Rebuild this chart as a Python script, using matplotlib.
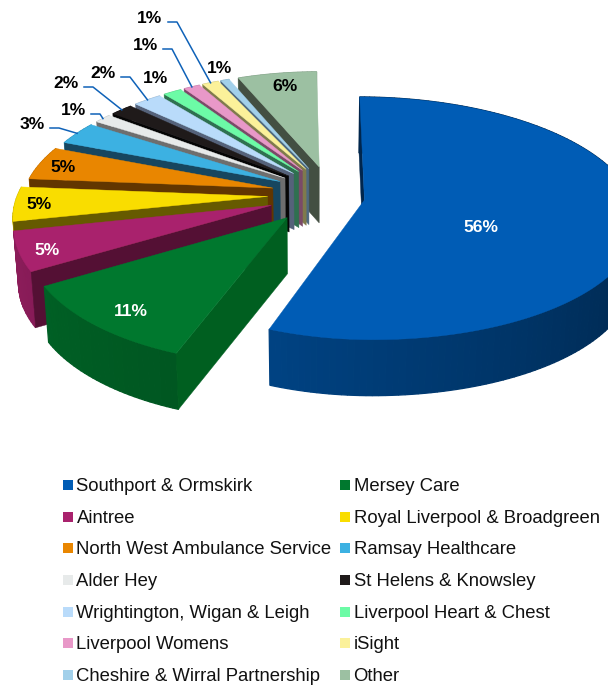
import numpy as np
import matplotlib
matplotlib.use('Agg')
import matplotlib.pyplot as plt

plt.rcParams['font.family'] = ['Liberation Sans', 'DejaVu Sans']

### DATA ###
names = ['Southport & Ormskirk', 'Mersey Care', 'Aintree', 'Royal Liverpool & Broadgreen',
         'North West Ambulance Service', 'Ramsay Healthcare', 'Alder Hey', 'St Helens & Knowsley',
         'Wrightington, Wigan & Leigh', 'Liverpool Heart & Chest', 'Liverpool Womens', 'iSight',
         'Cheshire & Wirral Partnership', 'Other']
values = [55.55, 10.75, 5.2, 4.6, 4.6, 3.2, 1.3, 1.7, 2.15, 1.4, 1.25, 1.25, 0.65, 6.0]

### STYLE ###
tops = ['#005cb5', '#00782e', '#a9226d', '#f9dd00', '#e98600', '#3cb1e2', '#e7eaea',
        '#1f1a1a', '#b9dbfa', '#6cfba6', '#e898c8', '#fbf19a', '#a2d0ea', '#9cc0a2']
walls = ['#00264d', '#005f20', '#541034', '#665a00', '#623600', '#17465f', '#6e6e6e',
         '#050505', '#55627a', '#2f7050', '#7a4a68', '#7f7a4c', '#4f6a80', '#434f42']
# how far each slice is pulled out sideways
explode_x = [0.205, 0.115, 0.17, 0.19, 0.19, 0.19, 0.19, 0.19, 0.19, 0.19, 0.19, 0.19, 0.19, 0.18]
# widening of the right hand side of a slice
bulge = [1.07] + [1.0]*13
label_xy = [(481, 226), (131, 310), (47, 249), (39, 203), (63, 166), (32, 123), (73, 109),
            (66, 82), (103, 72), (155, 77), (145, 44), (150, 17), (220, 67), (285, 85)]
leader = [False, False, False, False, False, True, True, True, True, False, True, True, False, False]
label_white = [True, True, True] + [False]*11

### PROJECTION ###
cx, cy = 316.0, 194.6
a, b, p = 250.0, 117.0, 0.15
ey, sx = 0.25, 0.05
depth = 56.0
start = 0.4
sweep = 359.0


def project(U, V):
    den = 1 + p*V
    return cx + a*U/den, cy - b*V/den


def drop(X, Y):
    return cx + (X - cx)*0.984, Y + depth


angles = start + np.cumsum([0] + values)*sweep/np.sum(values)

fig = plt.figure(figsize=(6.08, 6.86), dpi=100)
ax = fig.add_axes([0, 0, 1, 1])
ax.set_xlim(0, 608)
ax.set_ylim(686, 0)
ax.axis('off')

for i in reversed(range(len(values))):
    th = np.radians(np.linspace(angles[i], angles[i+1], max(4, int(values[i]*3))))
    mid = np.radians(0.5*(angles[i] + angles[i+1]))
    U0 = explode_x[i]*np.sin(mid) + sx*np.cos(mid)
    V0 = ey*np.cos(mid)
    Ax, Ay = project(U0, V0)
    su = np.sin(th)
    Rx, Ry = project(U0 + np.where(su > 0, su*bulge[i], su), V0 + np.cos(th))
    Abx, Aby = drop(Ax, Ay)
    Rbx, Rby = drop(Rx, Ry)

    # rim, one facet per step so it can be shaded
    rgb = np.array(matplotlib.colors.to_rgb(tops[i]))
    for k in range(len(th) - 1):
        deg = np.degrees(0.5*(th[k] + th[k+1]))
        shade = np.interp(deg, [100, 200, 250], [0.40, 0.72, 0.82])
        ax.fill([Rx[k], Rx[k+1], Rbx[k+1], Rbx[k]], [Ry[k], Ry[k+1], Rby[k+1], Rby[k]],
                color=tuple(rgb*shade), lw=0.9)
    # start wall
    ax.fill([Ax, Rx[0], Rbx[0], Abx], [Ay, Ry[0], Rby[0], Aby], color=walls[i], lw=0.3)
    # top face
    ax.fill(np.r_[Ax, Rx], np.r_[Ay, Ry], color=tops[i], lw=0.3)

    # labels
    ax.text(label_xy[i][0], label_xy[i][1] + 1.5, '%.0f%%' % values[i],
            ha='center', va='center', fontsize=12.6, fontweight='bold',
            color='white' if label_white[i] else 'black', zorder=5)
    if leader[i]:
        mx, my = project(U0 + np.sin(mid), V0 + np.cos(mid))
        lx, ly = label_xy[i][0] + 18, label_xy[i][1] + 5
        ax.plot([lx, lx + 9, mx], [ly, ly, my], color='#0f62b8', lw=1.1, zorder=4)

# legend, filled row by row
for i, name in enumerate(names):
    col, row = i % 2, i // 2
    x0 = 63 if col == 0 else 340
    y0 = 485 + row*31.65
    ax.add_patch(plt.Rectangle((x0, y0 - 5), 10, 10, color=tops[i], lw=0))
    ax.text(x0 + 13.5, y0 + 1.5, name, ha='left', va='center', fontsize=13.35, color='#111111')

fig.savefig('out.png', dpi=100)
